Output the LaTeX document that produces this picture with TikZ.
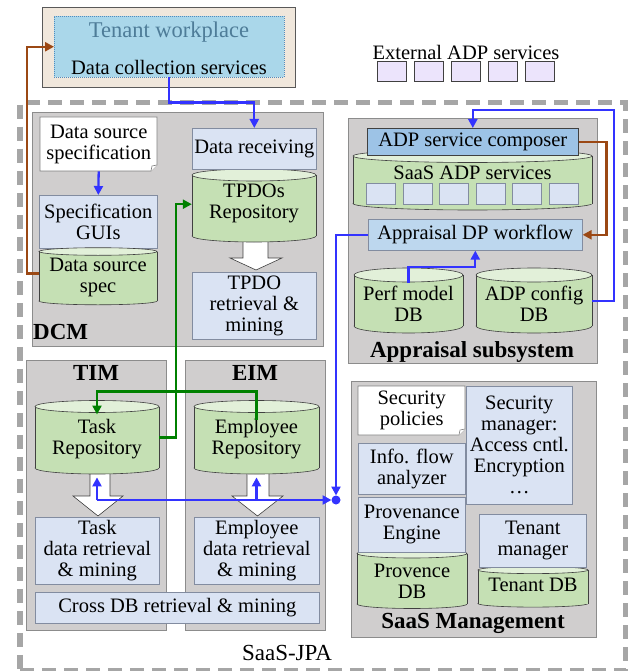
\documentclass[tikz,border=0pt]{standalone}
\usepackage{fontspec}
\setmainfont{Liberation Serif}
\usetikzlibrary{arrows.meta,calc}
\definecolor{panel}{RGB}{208,206,206}
\definecolor{panelline}{RGB}{140,140,140}
\definecolor{lblue}{RGB}{218,227,243}
\definecolor{lblueline}{RGB}{130,140,160}
\definecolor{cylg}{RGB}{197,224,180}
\definecolor{cylgtop}{RGB}{226,240,217}
\definecolor{dline}{RGB}{64,64,64}
\definecolor{compblue}{RGB}{157,195,230}
\definecolor{wfblue}{RGB}{189,215,238}
\definecolor{beige}{RGB}{240,231,220}
\definecolor{twblue}{RGB}{170,215,234}
\definecolor{twline}{RGB}{80,140,190}
\definecolor{twtext}{RGB}{78,124,152}
\definecolor{arrblue}{RGB}{51,51,255}
\definecolor{arrbrown}{RGB}{155,72,20}
\definecolor{arrgreen}{RGB}{0,128,0}
\definecolor{dashgray}{RGB}{166,166,166}
\definecolor{lav}{RGB}{236,228,252}
\tikzset{
  txt/.style={inner sep=0pt, align=center, font=\fontsize{20.5}{21}\selectfont},
  panelst/.style={fill=panel, draw=panelline, line width=0.8pt},
  lb/.style={txt, fill=lblue, draw=lblueline, line width=0.6pt},
  cylborder/.style={draw=dline, line width=0.6pt},
  docst/.style={fill=white, draw=gray, line width=0.6pt},
  titlest/.style={inner sep=0pt, font=\fontsize{23}{25}\selectfont\bfseries},
  conn/.style={line width=2.3pt, -{Triangle[length=9pt,width=9pt]}},
  bluec/.style={conn, draw=arrblue},
  brownc/.style={conn, draw=arrbrown},
  greenc/.style={conn, draw=arrgreen},
  bigarrow/.style={fill=white, draw=dline, line width=0.6pt, line join=miter},
}
% name x1 y1 x2 y2 style text
\newcommand\bx[7]{\node[#6, anchor=north west, minimum width={((#4)-(#2))*1pt}, minimum height={((#5)-(#3))*1pt}] (#1) at ({#2},{#3}) {#7};}
% name x1 x2 ytop ybot ry texty text
\newcommand\cyl[8]{%
  \pgfmathsetmacro\cx{(#2+#3)/2}\pgfmathsetmacro\rx{(#3-#2)/2}%
  \draw[cylborder, fill=cylg] (\cx,#5) ellipse[x radius=\rx, y radius=#6];
  \fill[cylg] (#2,#4) rectangle (#3,#5);
  \draw[cylborder] (#2,#4) -- (#2,#5) (#3,#4) -- (#3,#5);
  \draw[cylborder, fill=cylgtop] (\cx,#4) ellipse[x radius=\rx, y radius=#6];
  \node[inner sep=0pt, minimum width={(#3-#2)*1pt}, minimum height={(#5-#4-#6)*1pt}, anchor=north] (#1) at (\cx,{#4+#6}) {};
  \node[txt] (#1t) at (\cx,#7) {#8};
}
% name x1 y1 x2 y2 text
\newcommand\docbox[6]{%
  \draw[docst] (#2,#3) -- (#4,#3) -- (#4,{#5-6}) -- ({#4-6},#5) -- (#2,#5) -- cycle;
  \draw[docst] ({#4-6},#5) -- ({#4-5},{#5-5}) -- (#4,{#5-6});
  \node[txt, anchor=north west, minimum width={(#4-#2)*1pt}, minimum height={(#5-#3)*1pt}] (#1) at (#2,#3) {#6};
}
\begin{document}
\begin{tikzpicture}[x=1pt,y=-1pt]
\useasboundingbox (0,0) rectangle (627,671);
% Tenant workplace
\bx{twout}{42}{7}{295}{87}{fill=beige, draw={rgb,255:red,89;green,89;blue,89}, line width=0.8pt}{}
\bx{tw}{54}{16}{284}{77}{fill=twblue, draw=twline, line width=0.5pt, dash pattern=on 1pt off 1pt}{}
\node[inner sep=0pt, font=\fontsize{22.5}{24}\selectfont, text=twtext] (twt) at (169,32) {Tenant workplace};
\node[txt] (dcs) at (169,67) {Data collection services};
% External ADP services
\node[txt] (ext) at (466,52) {External ADP services};
\foreach \i in {0,...,4}{
  \bx{ext\i}{377+37*\i}{61}{406+37*\i}{81}{fill=lav, draw=dline, line width=0.6pt}{}
}
% outer SaaS-JPA
\bx{jpa}{17}{100}{623}{668}{draw=dashgray, line width=5.5pt, dash pattern=on 14pt off 8pt}{}
\node[inner sep=0pt, font=\fontsize{23}{25}\selectfont] (jpat) at (287,653) {SaaS-JPA};
% panels
\bx{dcm}{32}{112}{323}{346}{panelst}{}
\bx{tim}{26}{360}{166}{630}{panelst}{}
\bx{eim}{185}{360}{325}{630}{panelst}{}
\bx{apr}{348}{118}{597}{363}{panelst}{}
\bx{mgmt}{351}{381}{596}{637}{panelst}{}
\node[titlest, anchor=west] (dcmt) at (33,332) {DCM};
\node[titlest] (timt) at (96,373) {TIM};
\node[titlest] (eimt) at (255,373) {EIM};
\node[titlest] (aprt) at (472,352) {Appraisal subsystem};
\node[titlest] (mgmtt) at (473,623) {SaaS Management};
% DCM
\docbox{dsdoc}{40}{117}{157}{171}{Data source\\specification}
\bx{specgui}{39}{195}{157}{248}{lb}{Specification\\GUIs}
\cyl{dss}{39}{157}{251.5}{301}{3.8}{277}{Data source\\spec}
\draw[bigarrow] (243,236) -- (243,258) -- (230,258) -- (256,270) -- (282,258) -- (268,258) -- (268,236);
\cyl{tpdos}{192}{316}{175}{236}{6}{203.5}{TPDOs\\Repository}
\bx{drecv}{192}{128}{316}{169}{lb}{Data receiving}
\bx{tpdor}{192}{272}{316}{339}{lb}{TPDO\\retrieval \&\\mining}
% TIM / EIM
\draw[bigarrow] (90,466) -- (90,496) -- (73,496) -- (98,516) -- (123,496) -- (110,496) -- (110,466);
\draw[bigarrow] (247,466) -- (247,496) -- (232,496) -- (257.5,516) -- (283,496) -- (269,496) -- (269,466);
\cyl{taskrepo}{35}{159}{406.5}{468}{6}{439}{Task\\Repository}
\cyl{emprepo}{194}{319}{406.5}{468}{6}{439}{Employee\\Repository}
\bx{taskr}{35}{517}{159}{584}{lb}{Task\\data retrieval\\\& mining}
\bx{empr}{194}{517}{319}{584}{lb}{Employee\\data retrieval\\\& mining}
\bx{cross}{35}{592}{319}{623}{lb}{Cross DB retrieval \& mining}
% Appraisal
\cyl{saasadp}{353}{592}{156}{203.5}{6.5}{173}{SaaS ADP services}
\foreach \i in {0,...,5}{
  \bx{adp\i}{366+36.6*\i}{183}{395+36.6*\i}{204}{fill=lblue, draw=lblueline, line width=0.6pt}{}
}
\bx{composer}{367}{128}{578}{155}{txt, fill=compblue, draw=dline, line width=0.6pt}{ADP service composer}
\bx{adpwf}{368}{219}{582}{250}{txt, fill=wfblue, draw=lblueline, line width=0.6pt}{Appraisal DP workflow}
\cyl{perfdb}{354}{463}{275}{326}{7}{304}{Perf model\\DB}
\cyl{adpcfg}{476}{592}{275}{326}{7}{304}{ADP config\\DB}
% SaaS Management
\docbox{secpol}{358}{386}{465}{435}{Security\\policies}
\bx{secmgr}{466}{386}{572}{504}{lb}{Security\\manager:\\Access cntl.\\Encryption\\…}
\bx{infoflow}{358}{443}{465}{494}{lb}{Info. flow\\analyzer}
\cyl{provdb}{357}{467}{553.5}{604}{4.5}{581}{Provence\\DB}
\bx{proveng}{358}{497}{465}{552}{lb}{Provenance\\Engine}
\cyl{tenantdb}{478}{588}{570}{603.5}{3.6}{585}{Tenant DB}
\bx{tenmgr}{479}{514}{586}{567}{lb}{Tenant\\manager}
% connectors
\coordinate (hub) at (336,500);
\draw[brownc] ([yshift=5pt]dss.west) -- ++(-12,0) |- (tw.west);
\draw[bluec] (tw.south) -- ++(0,25) -| (drecv.north);
\draw[bluec] (dsdoc.south) -- (specgui.north);
\draw[greenc] ([yshift=3pt]taskrepo.east) -- ++(17,0) |- ([yshift=4.5pt]tpdos.west);
\draw[greenc] ([yshift=-7pt]emprepo.north) -- ++(0,-28) -| ([yshift=-2pt]taskrepo.north);
\draw[bluec, shorten >=4.5pt] (adpwf.west) -| (hub);
\draw[bluec, shorten >=4.5pt] (taskrepo.south |- hub) -- (hub);
\draw[bluec] (taskrepo.south |- hub) -- ([yshift=-9pt]taskrepo.south);
\draw[bluec] (emprepo.south |- hub) -- ([yshift=-9pt]emprepo.south);
\fill[arrblue] (hub) circle[radius=4.5pt];
\draw[bluec] ([yshift=-1pt]perfdb.north) -- ++(0,-16) -| (adpwf.south);
\draw[bluec] ([yshift=3pt]adpcfg.east) -- ++(22,0) |- ([yshift=18pt]composer.north) -- (composer.north);
\draw[brownc] (composer.east) -- ++(28,0) |- (adpwf.east);
\end{tikzpicture}
\end{document}
